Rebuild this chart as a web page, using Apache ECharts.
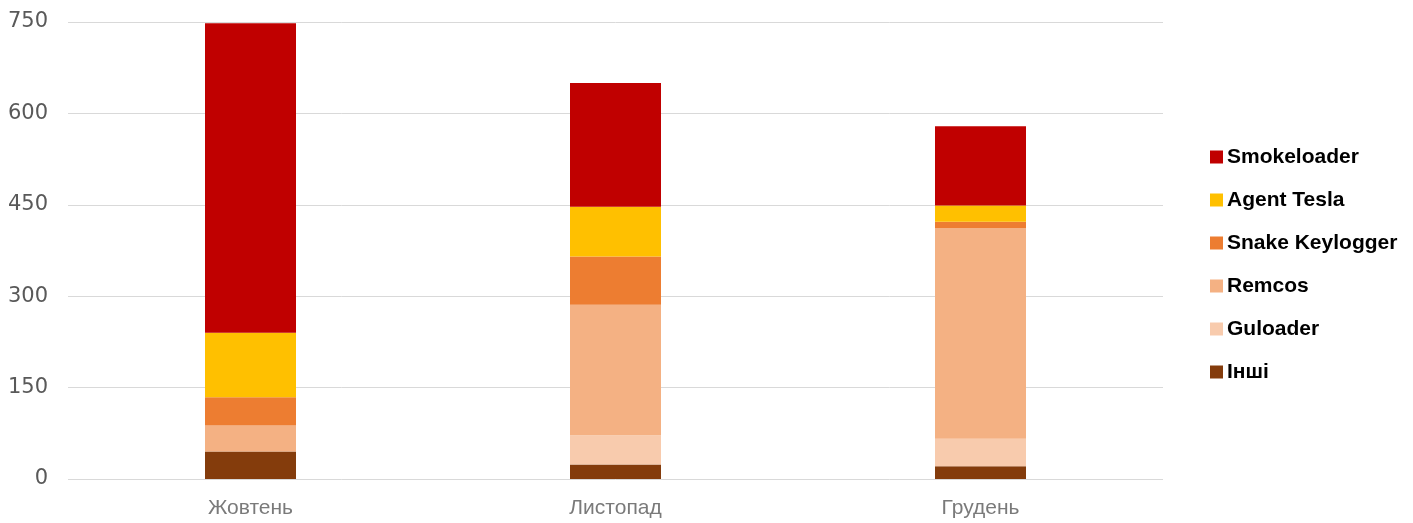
<!DOCTYPE html>
<html>
<head>
<meta charset="utf-8">
<script src="https://cdn.jsdelivr.net/npm/echarts@6/dist/echarts.min.js"></script>
<style>
  html, body { margin: 0; padding: 0; background: #ffffff; }
  #chart { width: 1413px; height: 523px; }
</style>
</head>
<body>
<div id="chart"></div>
<script>
// Months on the category axis
const months = ['Жовтень', 'Листопад', 'Грудень'];

// Counts per malware family, stacked from the bottom up
const inshi = [45, 24, 21];
const guloader = [0, 48, 45];
const remcos = [43, 214, 346];
const snakeKeylogger = [46, 79, 10];
const agentTesla = [106, 82, 27];
const smokeloader = [508, 203, 130];

// Value axis ticks
const yTicks = [0, 150, 300, 450, 600, 750];

// Legend reads top to bottom in reverse of the stack
const legendOrder = ['Smokeloader', 'Agent Tesla', 'Snake Keylogger', 'Remcos', 'Guloader', 'Інші'];

const stackSeries = [
  { name: 'Інші', data: inshi, color: '#843c0c' },
  { name: 'Guloader', data: guloader, color: '#f8cbad' },
  { name: 'Remcos', data: remcos, color: '#f4b183' },
  { name: 'Snake Keylogger', data: snakeKeylogger, color: '#ed7d31' },
  { name: 'Agent Tesla', data: agentTesla, color: '#ffc000' },
  { name: 'Smokeloader', data: smokeloader, color: '#c00000' }
];

const chart = echarts.init(document.getElementById('chart'), null, { renderer: 'canvas' });

chart.setOption({
  animation: false,
  backgroundColor: '#ffffff',
  grid: { left: 68, right: 250, top: 22, bottom: 44, containLabel: false },
  legend: {
    data: legendOrder,
    orient: 'vertical',
    left: 1205,
    top: 141,
    itemWidth: 13,
    itemHeight: 13,
    itemGap: 21,
    icon: 'rect',
    textStyle: {
      fontFamily: 'Liberation Sans, Arial, sans-serif',
      fontWeight: 'bold',
      fontSize: 21,
      lineHeight: 22,
      color: '#000000',
      padding: [0, 0, 0, -1]
    }
  },
  xAxis: {
    type: 'category',
    data: months,
    axisLine: { show: false },
    axisTick: { show: false },
    axisLabel: {
      margin: 19,
      fontFamily: 'Liberation Sans, Arial, sans-serif',
      fontSize: 21,
      color: '#7a7a7a'
    }
  },
  yAxis: {
    type: 'value',
    min: yTicks[0],
    max: yTicks[yTicks.length - 1],
    interval: yTicks[1] - yTicks[0],
    axisLine: { show: false },
    axisTick: { show: false },
    splitLine: { lineStyle: { color: '#d9d9d9', width: 1 } },
    axisLabel: {
      margin: 20,
      fontFamily: 'DejaVu Sans, sans-serif',
      fontSize: 21,
      color: '#595959'
    }
  },
  series: stackSeries.map(s => ({
    name: s.name,
    type: 'bar',
    stack: 'total',
    barWidth: 91,
    data: s.data,
    itemStyle: { color: s.color }
  }))
});
</script>
</body>
</html>
